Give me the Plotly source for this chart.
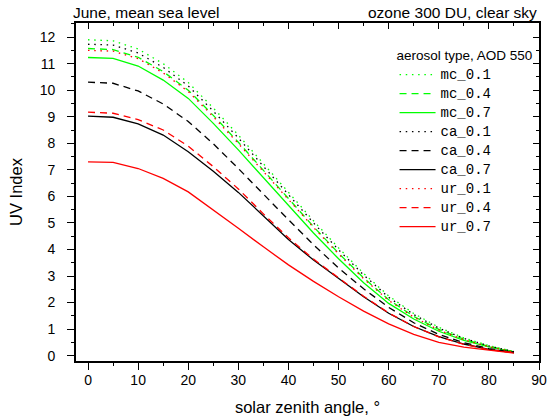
import plotly.graph_objects as go

# solar zenith angle, degrees
sza = [0, 5, 10, 15, 20, 25, 30, 35, 40, 45, 50, 55, 60, 65, 70, 75, 80, 85]

# UV index per aerosol type / AOD at 550 nm
mc_01 = [11.90, 11.86, 11.55, 11.00, 10.29, 9.33, 8.31, 7.23, 6.15, 5.08, 4.06, 3.10, 2.25, 1.59, 1.07, 0.67, 0.38, 0.16]
mc_04 = [11.57, 11.53, 11.24, 10.70, 10.00, 9.05, 8.04, 6.98, 5.91, 4.86, 3.86, 2.93, 2.11, 1.48, 0.99, 0.62, 0.35, 0.15]
mc_07 = [11.23, 11.20, 10.91, 10.38, 9.69, 8.75, 7.75, 6.70, 5.65, 4.62, 3.65, 2.75, 1.97, 1.38, 0.92, 0.58, 0.33, 0.14]
ca_01 = [11.73, 11.70, 11.40, 10.86, 10.16, 9.21, 8.20, 7.13, 6.06, 5.00, 3.99, 3.04, 2.20, 1.55, 1.04, 0.65, 0.37, 0.15]
ca_04 = [10.30, 10.26, 9.97, 9.48, 8.82, 7.98, 7.05, 6.08, 5.12, 4.18, 3.30, 2.52, 1.82, 1.24, 0.80, 0.49, 0.27, 0.12]
ca_07 = [9.02, 8.98, 8.73, 8.31, 7.68, 6.95, 6.15, 5.25, 4.38, 3.60, 2.90, 2.22, 1.60, 1.10, 0.72, 0.44, 0.24, 0.12]
ur_01 = [11.50, 11.47, 11.19, 10.65, 9.95, 9.00, 7.99, 6.94, 5.87, 4.83, 3.83, 2.90, 2.08, 1.45, 0.97, 0.60, 0.34, 0.14]
ur_04 = [9.17, 9.13, 8.89, 8.50, 7.89, 7.12, 6.28, 5.34, 4.44, 3.64, 2.93, 2.24, 1.61, 1.10, 0.71, 0.43, 0.23, 0.11]
ur_07 = [7.30, 7.28, 7.05, 6.68, 6.17, 5.50, 4.80, 4.10, 3.42, 2.80, 2.22, 1.68, 1.20, 0.80, 0.50, 0.32, 0.20, 0.10]

series = [
    ("mc_0.1", mc_01, "#00ff00", "dot"),
    ("mc_0.4", mc_04, "#00ff00", "dash"),
    ("mc_0.7", mc_07, "#00ff00", "solid"),
    ("ca_0.1", ca_01, "black", "dot"),
    ("ca_0.4", ca_04, "black", "dash"),
    ("ca_0.7", ca_07, "black", "solid"),
    ("ur_0.1", ur_01, "#ff0000", "dot"),
    ("ur_0.4", ur_04, "#ff0000", "dash"),
    ("ur_0.7", ur_07, "#ff0000", "solid"),
]
dashes = {"dot": "1.5px,4.7px", "dash": "7px,5px", "solid": "solid"}

SANS = "Liberation Sans, Arial, sans-serif"
MONO = "Liberation Mono, Courier New, monospace"

fig = go.Figure()
for name, vals, col, style in series:
    # legend font is kept small so the rows sit close; the label itself is drawn bigger
    fig.add_trace(go.Scatter(x=sza, y=vals, mode="lines",
                             name='<span style="font-size:14px">' + name + '</span>',
                             line=dict(color=col, width=1.3, dash=dashes[style])))

# dummy trace so the mirrored top/right axes (inward ticks) get drawn
fig.add_trace(go.Scatter(x=[None], y=[None], xaxis="x2", yaxis="y2",
                         showlegend=False, hoverinfo="skip"))

xr = [-2.4, 90]
yr = [-0.2, 12.53]
axis_common = dict(showline=True, linecolor="black", linewidth=1.6, automargin=False,
                   showgrid=False, zeroline=False, tickcolor="black", tickwidth=1.3,
                   tickfont=dict(family=SANS, size=14, color="black"))

fig.update_layout(
    width=548, height=416,
    margin=dict(l=76, r=9, t=23, b=55),
    paper_bgcolor="white", plot_bgcolor="white",
    font=dict(family=SANS, color="black"),
    xaxis=dict(range=xr, tick0=0, dtick=10, ticks="outside", ticklen=7, ticklabelstandoff=-2,
               minor=dict(dtick=5, ticks="outside", ticklen=3.5, tickcolor="black", tickwidth=1.3),
               title=dict(text="solar zenith angle, °", font=dict(size=16.5), standoff=15),
               **axis_common),
    yaxis=dict(range=yr, tick0=0, dtick=1, ticks="outside", ticklen=7, ticklabelstandoff=9,
               minor=dict(dtick=0.5, ticks="outside", ticklen=3.5, tickcolor="black", tickwidth=1.3),
               title=dict(text="UV Index", font=dict(size=16.5), standoff=13),
               **axis_common),
    xaxis2=dict(range=xr, overlaying="x", side="top", anchor="y2", tick0=0, dtick=10,
                ticks="inside", ticklen=6, showticklabels=False,
                minor=dict(dtick=5, ticks="inside", ticklen=3, tickcolor="black", tickwidth=1.3),
                **axis_common),
    yaxis2=dict(range=yr, overlaying="y", side="right", anchor="x2", tick0=0, dtick=1,
                ticks="inside", ticklen=6, showticklabels=False,
                minor=dict(dtick=0.5, ticks="inside", ticklen=3, tickcolor="black", tickwidth=1.3),
                **axis_common),
    legend=dict(x=0.688, y=0.942, xanchor="left", yanchor="top", itemwidth=36,
                bgcolor="rgba(0,0,0,0)", borderwidth=0,
                font=dict(family=MONO, size=11, color="black"),
                title=dict(text="aerosol type, AOD 550", font=dict(family=SANS, size=13.5))),
    showlegend=True,
    annotations=[
        dict(text="June, mean sea level", x=0, y=1, xref="paper", yref="paper",
             xanchor="left", yanchor="bottom", xshift=-5, showarrow=False,
             font=dict(family=SANS, size=15.5, color="black")),
        dict(text="ozone 300 DU, clear sky", x=1, y=1, xref="paper", yref="paper",
             xanchor="right", yanchor="bottom", showarrow=False,
             font=dict(family=SANS, size=15.5, color="black")),
    ],
)

# the page body has a default 8px margin; drop it so the figure fills the window
fig.write_html("out.html", config={"displayModeBar": False},
               post_script="document.body.style.margin='0px';")
